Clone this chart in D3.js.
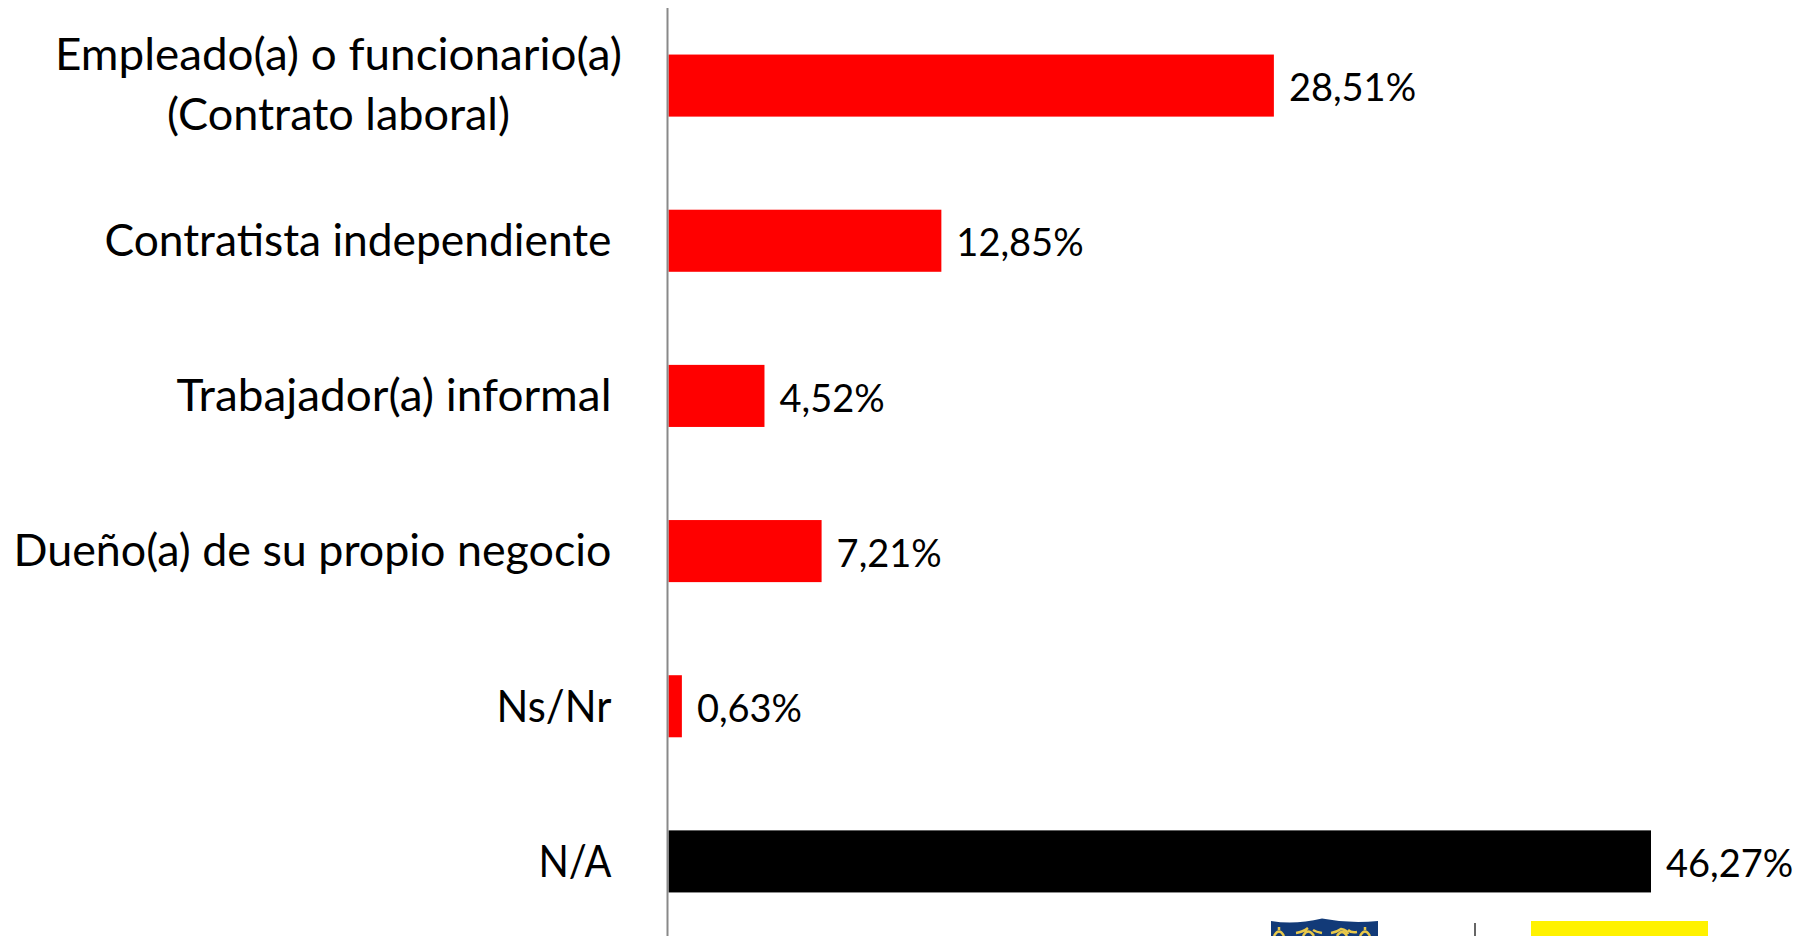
<!DOCTYPE html>
<html><head><meta charset="utf-8">
<script src="https://cdn.jsdelivr.net/npm/d3@7"></script>
<style>html,body{margin:0;padding:0;background:#fff;overflow:hidden}svg{display:block}text{font-family:Lato,Carlito,sans-serif;fill:#000}</style>
</head><body><svg id="c" width="1799" height="936"></svg>
<script>
const categories = ["Empleado(a) o funcionario(a)|(Contrato laboral)","Contratista independiente","Trabajador(a) informal","Dueño(a) de su propio negocio","Ns/Nr","N/A"];
const values = [28.51,12.85,4.52,7.21,0.63,46.27];
const barColors = ["#ff0000","#ff0000","#ff0000","#ff0000","#ff0000","#000000"];
const labelFit = {"Empleado(a) o funcionario(a)":567,"(Contrato laboral)":343,"Contratista independiente":507,"Trabajador(a) informal":435,"Dueño(a) de su propio negocio":598,"Ns/Nr":115,"N/A":73};
const svg = d3.select("#c");
const x0 = 668.5;
const x = d3.scaleLinear().domain([0,46.27]).range([x0,1651]);
const y = d3.scaleBand().domain(categories).range([8,939]).paddingInner(0.6).paddingOuter(0.3);
const cy = d => y(d)+y.bandwidth()/2;
const fmt = v => v.toFixed(2).replace(".",",")+"%";
const FS = 45;
svg.selectAll("rect.bar").data(values).join("rect").attr("class","bar")
  .attr("x",x0).attr("y",(d,i)=>y(categories[i])).attr("width",d=>x(d)-x0).attr("height",y.bandwidth())
  .attr("fill",(d,i)=>barColors[i]);
svg.append("line").attr("x1",667.5).attr("x2",667.5).attr("y1",8).attr("y2",936).attr("stroke","#898989").attr("stroke-width",2);
svg.selectAll("text.val").data(values).join("text").attr("class","val")
  .attr("x",d=>x(d)+15).attr("y",(d,i)=>cy(categories[i])+6).attr("dominant-baseline","middle")
  .attr("font-size",38).text(fmt);
const label = (t,xp,yp,anchor)=>svg.append("text").attr("x",xp).attr("y",yp).attr("text-anchor",anchor)
  .attr("dominant-baseline","middle").attr("font-size",FS)
  .attr("textLength",labelFit[t]).attr("lengthAdjust","spacingAndGlyphs").text(t);
categories.forEach(c=>{
  const lines=c.split("|");
  if(lines.length===1) label(c,611.5,cy(c)+4,"end");
  else lines.forEach((l,i)=>label(l,338.5,cy(c)+(i-0.5)*59.5+3,"middle"));
});
// cropped logos at the bottom edge
svg.append("path").attr("d","M1271 921 Q1295 925 1322 918.5 Q1350 924 1378 921 V936 H1271Z").attr("fill","#123a78");
svg.append("path").attr("fill","none").attr("stroke","#e8c84a").attr("stroke-width",2.5)
  .attr("d","M1279 927 v3 M1274 936 q5 -9 10 0 M1296 933 q7 -1 12 -5 M1322 933 q-6 -1 -9 -3 M1303 936 q5 -9 11 0 M1331 933 q6 -1 10 -4 q6 1 7 5 M1357 932 q-6 1 -9 -2 M1337 936 q5 -8 10 0 M1365 927 v3 M1360 936 q5 -9 10 0");
svg.append("line").attr("x1",1475).attr("x2",1475).attr("y1",923).attr("y2",936).attr("stroke","#333").attr("stroke-width",1.5);
svg.append("rect").attr("x",1531).attr("y",921).attr("width",177).attr("height",15).attr("fill","#fff200");
</script></body></html>
